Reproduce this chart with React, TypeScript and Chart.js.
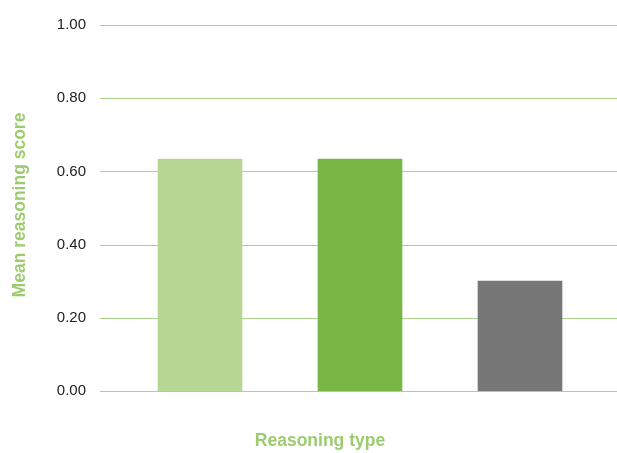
import React, { useEffect, useRef } from "react";
import { Chart, registerables } from "chart.js";

Chart.register(...registerables);

const categories = ["Type 1", "Type 2", "Type 3"];
const scores = [0.634, 0.634, 0.3];
const barColors = ["#b7d693", "#7ab646", "#777777"];
const yTicks = [0, 0.2, 0.4, 0.6, 0.8, 1.0];
const xTitle = "Reasoning type";
const yTitle = "Mean reasoning score";

const GRID = "#a9d38a";
const TITLE = "#9dcb6f";

const gridPlugin = {
  id: "customGrid",
  beforeDatasetsDraw(chart: any) {
    const { ctx } = chart;
    const y = chart.scales.y;
    ctx.save();
    ctx.strokeStyle = GRID;
    ctx.lineWidth = 1.2;
    yTicks.forEach((v) => {
      const py = Math.round(y.getPixelForValue(v)) + 0.5;
      ctx.beginPath();
      ctx.moveTo(100, py);
      ctx.lineTo(chart.width, py);
      ctx.stroke();
    });
    ctx.restore();
  },
  afterDraw(chart: any) {
    const { ctx } = chart;
    ctx.save();
    ctx.fillStyle = TITLE;
    ctx.font = "bold 17.5px 'Liberation Sans', Arial, sans-serif";
    ctx.textAlign = "center";
    ctx.textBaseline = "middle";
    ctx.fillText(xTitle, 320, 441);
    ctx.translate(20, 205);
    ctx.rotate(-Math.PI / 2);
    ctx.fillText(yTitle, 0, 0);
    ctx.restore();
  },
};

export default function App() {
  const ref = useRef<HTMLCanvasElement | null>(null);
  useEffect(() => {
    if (!ref.current) return;
    const chart = new Chart(ref.current, {
      type: "bar",
      data: {
        labels: categories,
        datasets: [
          {
            data: scores,
            backgroundColor: barColors,
            barThickness: 84,
            borderWidth: 0,
          },
        ],
      },
      options: {
        animation: false,
        responsive: false,
        maintainAspectRatio: false,
        layout: { padding: { left: 0, right: 17, top: 25, bottom: 62 } },
        plugins: { legend: { display: false }, tooltip: { enabled: false } },
        scales: {
          x: {
            display: false,
          },
          y: {
            min: 0,
            max: 1,
            afterBuildTicks: (s: any) => {
              s.ticks = yTicks.map((v) => ({ value: v }));
            },
            ticks: {
              padding: 34,
              color: "#222222",
              font: { family: "'Liberation Sans', Arial, sans-serif", size: 15 },
              callback: (v: any) => Number(v).toFixed(2),
            },
            grid: { display: false, drawTicks: false },
            border: { display: false },
            afterFit: (s: any) => {
              s.width = 120;
              s.paddingTop = 0;
              s.paddingBottom = 0;
            },
          },
        },
      },
      plugins: [gridPlugin],
    });
    return () => chart.destroy();
  }, []);
  return (
    <div style={{ position: "fixed", left: 0, top: 0, width: 617, height: 453, background: "#fff" }}>
      <canvas ref={ref} width={617} height={453} style={{ width: 617, height: 453, display: "block" }} />
    </div>
  );
}
